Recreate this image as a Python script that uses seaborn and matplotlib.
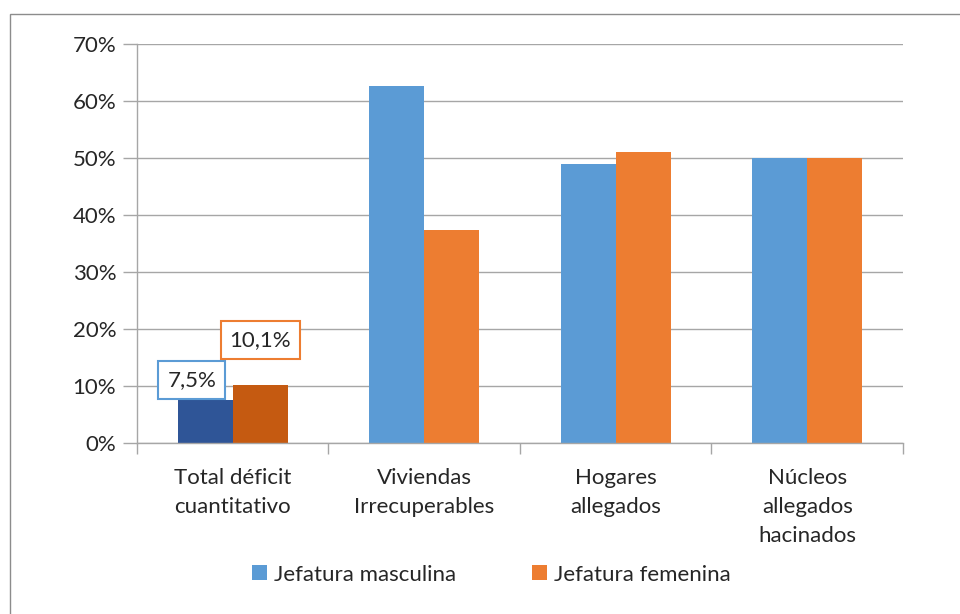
import pandas as pd
import numpy as np
import matplotlib
matplotlib.use('Agg')
import matplotlib.pyplot as plt
import seaborn as sns
from matplotlib.patches import Rectangle

# data
categories = ["Total déficit\ncuantitativo", "Viviendas\nIrrecuperables",
              "Hogares\nallegados", "Núcleos\nallegados\nhacinados"]
masculina = [7.5, 62.7, 49.0, 50.0]
femenina = [10.1, 37.3, 51.0, 50.0]
series = ["Jefatura masculina", "Jefatura femenina"]
labels_total = ["7,5%", "10,1%"]

df = pd.DataFrame({
    "cat": categories * 2,
    "val": masculina + femenina,
    "serie": [series[0]] * 4 + [series[1]] * 4,
})

sns.set_theme(style="white")
plt.rcParams['font.family'] = ['Lato', 'DejaVu Sans']

blue, orange = "#5B9BD5", "#ED7D31"
dark_blue, dark_orange = "#2F5597", "#C55A11"
grid_c = "#A6A6A6"
txt_c = "#262626"
fs = 16

fig = plt.figure(figsize=(9.6, 6.14), dpi=100)
ax = fig.add_axes([0.1427, 0.2785, 0.7979, 0.6498])

sns.barplot(data=df, x="cat", y="val", hue="serie", order=categories,
            hue_order=series, palette=[blue, orange], width=0.575,
            saturation=1, linewidth=0, ax=ax, legend=True)

# first group has darker colours
ax.containers[0][0].set_facecolor(dark_blue)
ax.containers[1][0].set_facecolor(dark_orange)

ax.set_ylim(0, 70)
ax.set_xlim(-0.5, 3.5)
ax.set_yticks(np.arange(0, 71, 10))
ax.set_yticklabels([f"{v}%" for v in range(0, 71, 10)], fontsize=fs, color=txt_c)
ax.yaxis.grid(True, color=grid_c, linewidth=1)
ax.set_axisbelow(True)
ax.tick_params(axis="y", which="major", length=10, color=grid_c, width=1, pad=5, left=True)
ax.set_xlabel("")
ax.set_ylabel("")

ax.set_xticks(range(4))
ax.set_xticklabels(categories, fontsize=fs, color=txt_c, linespacing=1.55)
ax.tick_params(axis="x", which="major", length=0, pad=18)
ax.set_xticks([-0.5, 0.5, 1.5, 2.5, 3.5], minor=True)
ax.tick_params(axis="x", which="minor", length=8, color=grid_c, width=1, bottom=True)

for s in ["top", "right"]:
    ax.spines[s].set_visible(False)
for s in ["left", "bottom"]:
    ax.spines[s].set_color(grid_c)
    ax.spines[s].set_linewidth(1)

# boxed labels on first group
b0 = ax.containers[0][0]
b1 = ax.containers[1][0]
ax.text(b0.get_x() + b0.get_width() / 2 - 0.07, masculina[0] + 3.6, labels_total[0],
        ha="center", va="center", fontsize=fs, color=txt_c,
        bbox=dict(boxstyle="square,pad=0.4", fc="white", ec=blue, lw=1.5))
ax.text(b1.get_x() + b1.get_width() / 2, femenina[0] + 8.0, labels_total[1],
        ha="center", va="center", fontsize=fs, color=txt_c,
        bbox=dict(boxstyle="square,pad=0.4", fc="white", ec=orange, lw=1.5))

leg = ax.legend(loc="center", bbox_to_anchor=(0.463, -0.33), ncol=2, frameon=False,
                fontsize=fs, handlelength=0.65, handleheight=0.65, columnspacing=3.4,
                handletextpad=0.35)
for t in leg.get_texts():
    t.set_color(txt_c)

# outer chart border
fig.patches.append(Rectangle((10 / 960, -0.05), 1.2, 1 - 14 / 614 + 0.05,
                             transform=fig.transFigure, fill=False,
                             ec="#8C8C8C", lw=1))

fig.savefig("out.png", dpi=100)
